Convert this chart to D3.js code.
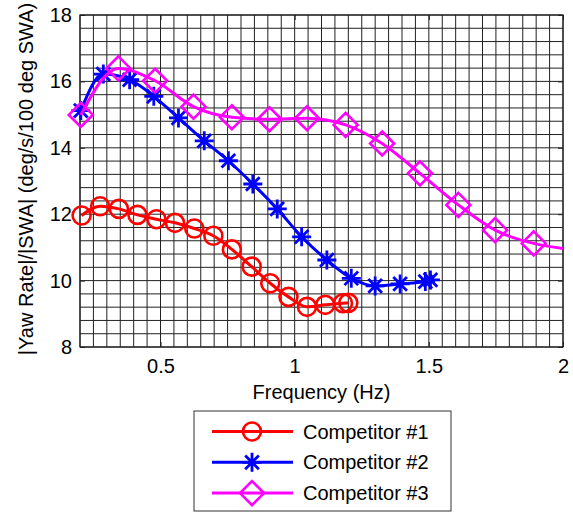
<!DOCTYPE html>
<html><head><meta charset="utf-8">
<script src="https://cdn.jsdelivr.net/npm/d3@7"></script>
<style>body{margin:0;background:#fff;} svg{display:block;font-family:"Liberation Sans",Arial,sans-serif;}</style>
</head><body>
<svg id="c" width="573" height="515"></svg>
<script>
// Data
const freq1 = [0.206,0.275,0.345,0.414,0.485,0.554,0.626,0.697,0.766,0.84,0.909,0.977,1.046,1.114,1.18,1.2];
const gain1 = [11.96,12.24,12.16,11.98,11.85,11.74,11.57,11.35,10.94,10.42,9.92,9.51,9.21,9.27,9.32,9.33];
const freq2 = [0.203,0.287,0.385,0.475,0.567,0.663,0.753,0.844,0.935,1.026,1.12,1.211,1.3,1.393,1.487,1.506];
const gain2 = [15.12,16.22,16.05,15.55,14.9,14.21,13.61,12.91,12.16,11.32,10.62,10.07,9.84,9.9,9.97,10.02];
const freq3 = [0.203,0.343,0.48,0.623,0.766,0.906,1.046,1.19,1.326,1.467,1.61,1.747,1.891,2.0];
const gain3 = [14.99,16.39,16.02,15.24,14.92,14.86,14.89,14.69,14.13,13.23,12.28,11.52,11.12,10.97];
const markerCount3 = 13; // last point of series 3 is line-only (plot edge)
const seriesNames = ["Competitor #1","Competitor #2","Competitor #3"];
const seriesColors = ["#ff0000","#0000ff","#ff00ff"];
const xTicks = [0.5,1,1.5,2];
const xTickLabels = ["0.5","1","1.5","2"];
const yTicks = [8,10,12,14,16,18];
const xLabel = "Frequency (Hz)";
const yLabel = "|Yaw Rate|/|SWA| (deg/s/100 deg SWA)";

const FS = 20;
const svg = d3.select("#c");
const L=80, T=15, R=563, B=347;
const x = d3.scaleLinear().domain([0.2,2]).range([L,R]);
const y = d3.scaleLinear().domain([8,18]).range([B,T]);

// grid
const gx = d3.range(0.2,2.0001,0.05);
const gy = d3.range(8,18.0001,0.4);
const grid = svg.append("g").attr("stroke","#222").attr("stroke-width",1);
grid.selectAll("line.v").data(gx).join("line").attr("x1",d=>x(d)).attr("x2",d=>x(d)).attr("y1",T).attr("y2",B);
grid.selectAll("line.h").data(gy).join("line").attr("y1",d=>y(d)).attr("y2",d=>y(d)).attr("x1",L).attr("x2",R);

// axes
const ax = svg.append("g").attr("transform",`translate(0,${B})`)
  .call(d3.axisBottom(x).tickValues(xTicks).tickFormat((d,i)=>xTickLabels[i]).tickSizeInner(-5).tickSizeOuter(0).tickPadding(12));
const ay = svg.append("g").attr("transform",`translate(${L},0)`)
  .call(d3.axisLeft(y).tickValues(yTicks).tickFormat(d3.format("d")).tickSizeInner(-5).tickSizeOuter(0).tickPadding(8));
const axT = svg.append("g").attr("transform",`translate(0,${T})`)
  .call(d3.axisTop(x).tickValues(xTicks).tickFormat("").tickSizeInner(-5).tickSizeOuter(0));
const ayR = svg.append("g").attr("transform",`translate(${R},0)`)
  .call(d3.axisRight(y).tickValues(yTicks).tickFormat("").tickSizeInner(-5).tickSizeOuter(0));
[ax,ay,axT,ayR].forEach(g=>{g.select(".domain").remove(); g.selectAll("line").attr("stroke","#222");
  g.selectAll("text").attr("font-size",FS).attr("fill","#000").attr("font-family","Liberation Sans, Arial, sans-serif");});
svg.append("rect").attr("x",L).attr("y",T).attr("width",R-L).attr("height",B-T).attr("fill","none").attr("stroke","#222").attr("stroke-width",1.2);

svg.append("text").attr("x",(L+R)/2).attr("y",399).attr("text-anchor","middle").attr("font-size",FS).text(xLabel);
svg.append("text").attr("transform",`translate(33,${(T+B)/2-2}) rotate(-90)`).attr("text-anchor","middle").attr("font-size",FS).text(yLabel);

const line = d3.line().x(d=>x(d[0])).y(d=>y(d[1])).curve(d3.curveMonotoneX);
const data = [
  d3.zip(freq1,gain1),
  d3.zip(freq2,gain2),
  d3.zip(freq3,gain3)
];
const markerData = [data[0], data[1], data[2].slice(0,markerCount3)];

function drawMarker(g, kind, cx, cy, color){
  if(kind===0){
    g.append("circle").attr("cx",cx).attr("cy",cy).attr("r",9).attr("fill","none").attr("stroke",color).attr("stroke-width",2.6);
  } else if(kind===1){
    const s=9.5, d=s*0.72;
    const p=`M${cx-s},${cy}L${cx+s},${cy}M${cx},${cy-s}L${cx},${cy+s}M${cx-d},${cy-d}L${cx+d},${cy+d}M${cx-d},${cy+d}L${cx+d},${cy-d}`;
    g.append("path").attr("d",p).attr("stroke",color).attr("stroke-width",2.8).attr("fill","none");
  } else {
    const s=12;
    g.append("path").attr("d",`M${cx},${cy-s}L${cx+s},${cy}L${cx},${cy+s}L${cx-s},${cy}Z`).attr("fill","none").attr("stroke",color).attr("stroke-width",2.6).attr("stroke-linejoin","miter");
  }
}

svg.append("clipPath").attr("id","pc").append("rect").attr("x",L).attr("y",T).attr("width",R-L).attr("height",B-T);
data.forEach((ser,i)=>{
  const g = svg.append("g");
  g.append("path").attr("d",line(ser)).attr("fill","none").attr("stroke",seriesColors[i]).attr("stroke-width",3).attr("clip-path","url(#pc)");
  markerData[i].forEach(p=>drawMarker(g,i,x(p[0]),y(p[1]),seriesColors[i]));
});

// legend
const lg = svg.append("g");
lg.append("rect").attr("x",194).attr("y",411).attr("width",257).attr("height",100).attr("fill","#fff").attr("stroke","#333").attr("stroke-width",1);
seriesNames.forEach((n,i)=>{
  const yy = 431.5 + i*30.8;
  lg.append("line").attr("x1",212).attr("x2",293).attr("y1",yy).attr("y2",yy).attr("stroke",seriesColors[i]).attr("stroke-width",3);
  drawMarker(lg,i,252,yy,seriesColors[i]);
  lg.append("text").attr("x",303).attr("y",yy+7).attr("font-size",FS).text(n);
});
</script>
</body></html>
